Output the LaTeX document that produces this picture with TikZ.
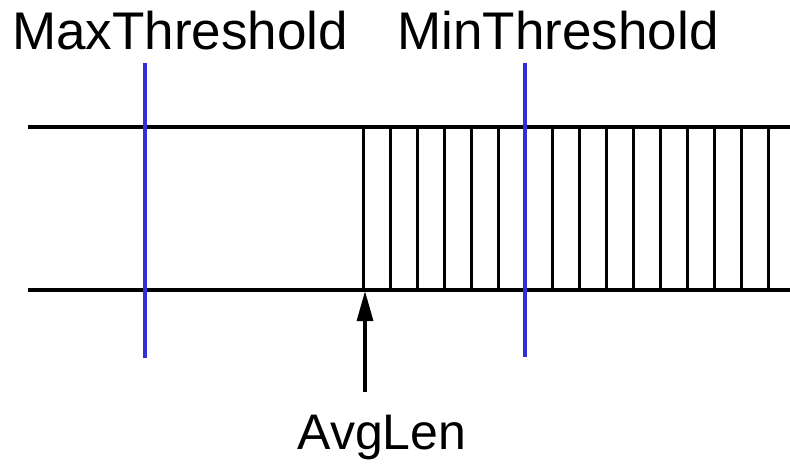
\documentclass[tikz,border=0pt]{standalone}
\usepackage{fontspec}
\setmainfont{Liberation Sans}
\usetikzlibrary{arrows.meta,calc,positioning}
\definecolor{threshblue}{RGB}{48,48,214}
\tikzstyle{queueline}=[line width=3.2pt,black]
\tikzstyle{slot}=[line width=3pt,black]
\tikzstyle{threshold}=[line width=3.2pt,threshblue]
\tikzstyle{tag}=[font=\fontsize{53}{60}\selectfont,inner sep=0pt,anchor=base]

\begin{document}
\begin{tikzpicture}[x=1pt,y=-1pt]
\useasboundingbox (0,0) rectangle (790,469);
% queue edges
\coordinate (QTL) at (28,127);
\coordinate (QTR) at (790,127);
\coordinate (QBL) at (28,290);
\coordinate (QBR) at (790,290);
\draw[queueline] (QTL)--(QTR);
\draw[queueline] (QBL)--(QBR);
% filled slots
\foreach \k in {0,...,15}
  \draw[slot] (363+27*\k,127)--(363+27*\k,290);
% thresholds
\node[tag] (max) at (180,49) {MaxThreshold};
\node[tag] (min) at (558,49) {MinThreshold};
\coordinate (maxT) at (145,63);
\coordinate (maxB) at (145,358);
\coordinate (minT) at (525,63);
\coordinate (minB) at (525,357);
\draw[threshold] (maxT)--(maxB);
\draw[threshold] (minT)--(minB);
% average length
\node[tag,font=\fontsize{50}{56}\selectfont] (avg) at (382,449) {AvgLen};
\coordinate (avgS) at (365,392);
\coordinate (avgE) at (365,291);
\draw[line width=3.2pt,-{Triangle[length=30pt,width=16pt]}] (avgS)--(avgE);
\end{tikzpicture}
\end{document}
